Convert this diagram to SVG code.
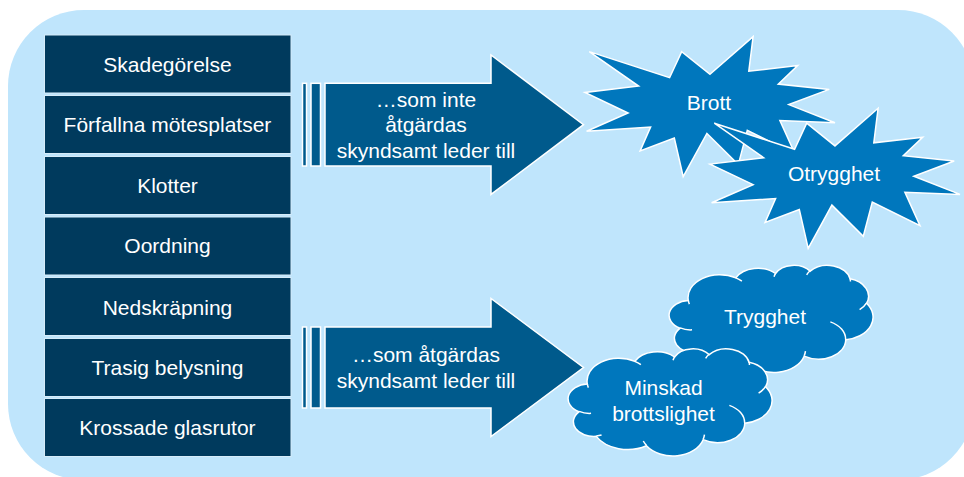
<svg xmlns="http://www.w3.org/2000/svg" xmlns:xlink="http://www.w3.org/1999/xlink" width="964" height="477" viewBox="0 0 964 477">
<style>
  .box { fill: #003A5D; stroke: #D6ECFA; stroke-width: 1; }
  .btxt { fill: #FFFFFF; font-family: "Liberation Sans", Arial, sans-serif; font-size: 21px; text-anchor: middle; }
  .arr { fill: #005A8C; stroke: #FFFFFF; stroke-width: 1.5; stroke-linejoin: miter; }
  .shape { fill: #0077BD; stroke: #FFFFFF; stroke-width: 1.5; stroke-linejoin: miter; }
  .inner { fill: none; stroke: #FFFFFF; stroke-width: 1.5; }
</style>
<defs>
  <polygon id="star" points="125.0,37.6 168.1,0 163.8,34.5 212.7,28.9 193.3,47.4 244.2,52.7 203.8,67.9 250,86.1 194.9,83.9 210.0,117.3 162.3,93.7 153.3,127.9 121.9,96.8 98.2,140 89.3,101.3 55.1,114.2 65.6,90.3 1.6,94.5 43.1,76.3 0,55.8 53.6,49.4 4.3,14.9 84.6,41.0 96.7,14.9"/>
  <path id="cloud" d="M18.33,35.59 A31.73,22.76 0 0 1 65.81,12.88 A25.06,18.00 0 0 1 105.52,8.50 A20.51,14.72 0 0 1 140.18,6.14 A22.82,16.33 0 0 1 180.05,13.81 A25.06,18.01 0 0 1 196.50,38.29 A31.84,22.84 0 0 1 175.75,74.80 A27.18,19.48 0 0 1 134.18,91.18 A31.73,22.82 0 0 1 77.44,97.25 A36.28,26.11 0 0 1 27.26,87.85 A20.49,14.66 0 0 1 9.91,63.28 A20.42,14.72 0 0 1 18.33,35.59 Z"/>
  <path id="cloudInner" d="M22.05,64.84 A20.42,14.72 0 0 1 10.15,62.86 M32.55,86.45 A20.49,14.66 0 0 1 27.34,87.39 M77.43,96.82 A31.73,22.82 0 0 1 74.29,92.51 M135.46,86.08 A31.73,22.82 0 0 1 134.20,90.80 M160.37,56.85 A27.18,19.48 0 0 1 175.65,74.53 M196.41,38.03 A25.06,18.01 0 0 1 189.61,44.66 M180.08,13.44 A22.82,16.33 0 0 1 180.44,16.57 M136.64,9.79 A22.82,16.33 0 0 1 140.12,5.80 M104.04,11.69 A20.51,14.72 0 0 1 105.73,8.25 M65.79,12.86 A31.73,22.76 0 0 1 71.90,16.20 M19.39,39.11 A31.73,22.76 0 0 1 18.33,35.60"/>
</defs>

<rect id="background" x="8" y="10" width="966" height="470" rx="76" ry="76" fill="#BFE5FC"/>

<g id="box-skadegorelse"><rect class="box" x="44.5" y="35" width="246.5" height="58"/><text class="btxt" x="167.5" y="71.5">Skadegörelse</text></g>
<g id="box-forfallna"><rect class="box" x="44.5" y="95.5" width="246.5" height="58"/><text class="btxt" x="167.5" y="132">Förfallna mötesplatser</text></g>
<g id="box-klotter"><rect class="box" x="44.5" y="156.5" width="246.5" height="58"/><text class="btxt" x="167.5" y="193">Klotter</text></g>
<g id="box-oordning"><rect class="box" x="44.5" y="217" width="246.5" height="58"/><text class="btxt" x="167.5" y="253">Oordning</text></g>
<g id="box-nedskrapning"><rect class="box" x="44.5" y="277.5" width="246.5" height="58"/><text class="btxt" x="167.5" y="314.5">Nedskräpning</text></g>
<g id="box-trasig"><rect class="box" x="44.5" y="338.5" width="246.5" height="58"/><text class="btxt" x="167.5" y="375">Trasig belysning</text></g>
<g id="box-krossade"><rect class="box" x="44.5" y="398.5" width="246.5" height="58"/><text class="btxt" x="167.5" y="435">Krossade glasrutor</text></g>

<g id="connectors">
  <g id="arrow-inte">
    <rect class="arr" x="302.5" y="83.3" width="4" height="82.7"/>
    <rect class="arr" x="311" y="83.3" width="9.5" height="82.7"/>
    <polygon class="arr" points="325,83.3 491,83.3 491,55 583.5,124.7 491,194.4 491,166 325,166"/>
    <text class="btxt" x="426" y="106.5">…som inte</text>
    <text class="btxt" x="426" y="132">åtgärdas</text>
    <text class="btxt" x="426" y="158">skyndsamt leder till</text>
  </g>
  <g id="arrow-atgardas">
    <rect class="arr" x="302.5" y="327" width="4" height="81"/>
    <rect class="arr" x="311" y="327" width="9.5" height="81"/>
    <polygon class="arr" points="325,327 491,327 491,298.5 583.5,367.5 491,436.5 491,408 325,408"/>
    <text class="btxt" x="426" y="362">…som åtgärdas</text>
    <text class="btxt" x="426" y="388">skyndsamt leder till</text>
  </g>
</g>

<g id="star-brott">
  <use xlink:href="#star" href="#star" class="shape" transform="translate(585,36.7)"/>
  <text class="btxt" x="709" y="110">Brott</text>
</g>
<g id="star-otrygghet">
  <use xlink:href="#star" href="#star" class="shape" transform="translate(710,108.3)"/>
  <text class="btxt" x="834" y="181">Otrygghet</text>
</g>

<g id="cloud-trygghet">
  <use xlink:href="#cloud" href="#cloud" class="shape" transform="translate(670,265)"/>
  <use xlink:href="#cloudInner" href="#cloudInner" class="inner" transform="translate(670,265)"/>
  <text class="btxt" x="765" y="324">Trygghet</text>
</g>
<g id="cloud-minskad">
  <use xlink:href="#cloud" href="#cloud" class="shape" transform="translate(569,348.5)"/>
  <use xlink:href="#cloudInner" href="#cloudInner" class="inner" transform="translate(569,348.5)"/>
  <text class="btxt" x="663.5" y="395">Minskad</text>
  <text class="btxt" x="663.5" y="421">brottslighet</text>
</g>
</svg>
